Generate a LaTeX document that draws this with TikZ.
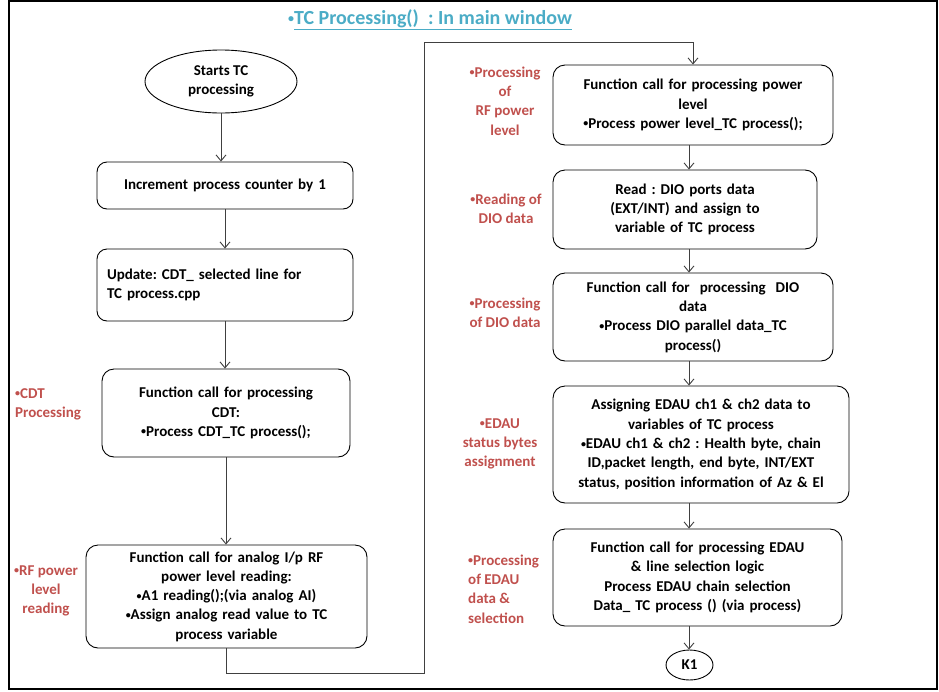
\documentclass[tikz,border=0pt]{standalone}
\usepackage{fontspec}
\setmainfont{Carlito}
\usetikzlibrary{shapes.geometric,arrows.meta,positioning}
\definecolor{lbl}{HTML}{C0504D}
\definecolor{ttl}{HTML}{4BACC6}
\definecolor{conn}{HTML}{404040}
\newcommand{\bul}{{\fontsize{10}{10}\selectfont\raisebox{1.5pt}{•}}}
\tikzset{
  box/.style={draw=black, line width=0.9pt, rounded corners=12pt, align=center, inner sep=4pt,
    font=\fontsize{15}{19.3}\selectfont\bfseries},
  oval/.style={draw=black, line width=0.9pt, ellipse, inner sep=0pt, align=center,
    font=\fontsize{15}{19.3}\selectfont\bfseries},
  lab/.style={text=lbl, inner sep=0pt, font=\fontsize{15}{19.3}\selectfont\bfseries},
  conn/.style={draw=conn, line width=0.9pt, -{Straight Barb[length=6pt,width=10pt]}}
}
\begin{document}
\frenchspacing
\begin{tikzpicture}[x=1pt,y=-1pt]
\useasboundingbox (0,0) rectangle (939,691);
\draw[line width=1.2pt] (9,1) rectangle (937,689);

\node[text=ttl, font=\fontsize{20}{24}\selectfont\bfseries, inner sep=0pt] (title) at (430,20)
  {{\fontsize{12}{12}\selectfont\raisebox{2pt}{•}}\underline{TC Processing()\ \ : In main window}};

% left column
\node[oval, minimum width=152pt, minimum height=63pt] (start) at (221,81.5) {Starts TC\\processing};
\node[box, rounded corners=10pt, minimum width=256pt, minimum height=47pt, text width=246pt] (b1) at (225,185.5) {Increment process counter by 1};
\node[box, rounded corners=10pt, minimum width=256pt, minimum height=72pt, text width=236pt, align=left] (b2) at (225,285) {Update: CDT\_ selected line for\\TC process.cpp};
\node[box, minimum width=248pt, minimum height=88pt, text width=238pt] (b3) at (226,413) {Function call for processing\\CDT:\\\bul Process CDT\_TC process();};
\node[box, minimum width=281pt, minimum height=103pt, text width=271pt] (b4) at (226.5,596.5) {Function call for analog I/p RF\\power level reading:\\\bul A1 reading();(via analog AI)\\\bul Assign analog read value to TC\\process variable};

% right column
\node[box, minimum width=280pt, minimum height=80pt, text width=270pt] (b5) at (693,105) {\raisebox{6pt}{\parbox{270pt}{\centering Function call for processing power\\level\\\bul Process power level\_TC process();}}};
\node[box, minimum width=264pt, minimum height=79pt, text width=254pt] (b6) at (685,209.5) {Read : DIO ports data\\(EXT/INT) and assign to\\variable of TC process};
\node[box, minimum width=280pt, minimum height=88pt, text width=270pt] (b7) at (693,317) {\raisebox{-8pt}{\parbox{270pt}{\centering Function call for\ \ processing\ \ DIO\\data\\\bul Process DIO parallel data\_TC\\process()}}};
\node[box, minimum width=296pt, minimum height=117pt, text width=286pt] (b8) at (701,444.5) {Assigning EDAU ch1 \& ch2 data to\\variables of TC process\\\bul EDAU ch1 \& ch2 : Health byte, chain\\ID,packet length, end byte, INT/EXT\\status, position information of Az \& El};
\node[box, minimum width=289pt, minimum height=97pt, text width=279pt] (b9) at (697.5,577.5) {Function call for processing EDAU\\\& line selection logic\\Process EDAU chain selection\\Data\_ TC process () (via process)};
\node[oval, minimum width=47pt, minimum height=30pt] (k1) at (689.5,665) {K1};

% labels
\node[lab, align=left, anchor=west] (l3) at (15,404) {\bul CDT\\Processing};
\node[lab, align=center] (l4) at (46,591) {\bul RF power\\level\\reading};
\node[lab, align=center] (l5) at (505,101) {\bul Processing\\of\\RF power\\level};
\node[lab, align=center] (l6) at (506,208.5) {\bul Reading of\\DIO data};
\node[lab, align=center] (l7) at (505,312.5) {\bul Processing\\of DIO data};
\node[lab, align=center] (l8) at (500,444) {\bul EDAU\\status bytes\\assignment};
\node[lab, align=left, anchor=west] (l9) at (468,589) {\bul Processing\\of EDAU\\data \&\\selection};

% connectors
\coordinate (colx) at (689,0);
\coordinate (p1) at (226.5,673);
\coordinate (p2) at (424,673);
\coordinate (p3) at (424,42);
\coordinate (p4) at (693,42);

\draw[conn] (start.south) -- (start.south |- b1.north);
\draw[conn] (b1.south) -- (b2.north);
\draw[conn] (b2.south) -- (b2.south |- b3.north);
\draw[conn] (b3.south) -- (b3.south |- b4.north);
\draw[conn] (b4.south) -- (p1) -- (p2) -- (p3) -- (p4) -- (b5.north);
\draw[conn] (b5.south -| colx) -- (b6.north -| colx);
\draw[conn] (b6.south -| colx) -- (b7.north -| colx);
\draw[conn] (b7.south -| colx) -- (b8.north -| colx);
\draw[conn] (b8.south -| colx) -- (b9.north -| colx);
\draw[conn] (b9.south -| colx) -- (k1.north -| colx);
\end{tikzpicture}
\end{document}
